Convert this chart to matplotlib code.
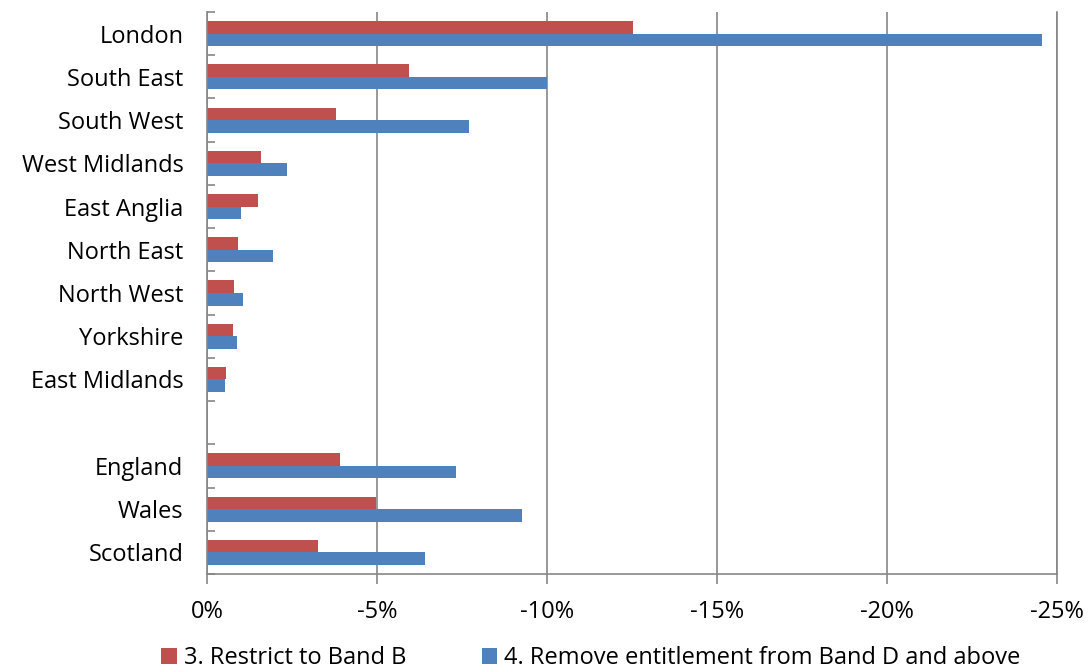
import matplotlib
matplotlib.use("Agg")
import matplotlib.pyplot as plt
import numpy as np

categories = ["London", "South East", "South West", "West Midlands", "East Anglia",
              "North East", "North West", "Yorkshire", "East Midlands", "",
              "England", "Wales", "Scotland"]
restrict_band_b = [-12.52, -5.95, -3.8, -1.6, -1.5, -0.9, -0.8, -0.76, -0.56, np.nan,
                   -3.9, -4.96, -3.26]
remove_band_d = [-24.56, -10.0, -7.7, -2.35, -1.0, -1.93, -1.07, -0.88, -0.52, np.nan,
                 -7.32, -9.27, -6.4]
series_names = ["3. Restrict to Band B", "4. Remove entitlement from Band D and above"]
xticks = [0, -5, -10, -15, -20, -25]
xtick_labels = ["0%", "-5%", "-10%", "-15%", "-20%", "-25%"]

plt.rcParams['font.family'] = ['Open Sans', 'DejaVu Sans']

fig = plt.figure(figsize=(10.92, 6.72), dpi=100)
ax = fig.add_axes([207/1092, 1-574/672, (1057-207)/1092, (574-12)/672])

n = len(categories)
y = np.arange(n)
h = 0.29
red = "#C0504D"
blue = "#4F81BD"
ax.barh(y - h/2, restrict_band_b, height=h, color=red, label=series_names[0])
ax.barh(y + h/2, remove_band_d, height=h, color=blue, label=series_names[1])

ax.set_ylim(n - 0.5, -0.5)
ax.set_xlim(0, -25)
ax.set_xticks(xticks)
ax.set_xticklabels(xtick_labels, fontsize=17)
ax.set_yticks(y)
ax.set_yticklabels(categories, fontsize=17)
ax.set_yticks(np.arange(-0.5, n, 1), minor=True)
ax.tick_params(axis='y', which='major', length=0, pad=17)
ax.tick_params(axis='y', which='minor', length=6, direction='in', color="#868686", width=1.2)
ax.tick_params(axis='x', which='major', length=7, direction='out', color="#868686", width=1.2, pad=12)

ax.grid(axis='x', color="#868686", linewidth=1.2)
ax.set_axisbelow(True)
ax.spines["top"].set_visible(False)
for s in ["left", "bottom", "right"]:
    ax.spines[s].set_color("#868686")
    ax.spines[s].set_linewidth(1.2)

fig.legend(loc="center", bbox_to_anchor=(0.541, 1 - 658/672), ncol=2, frameon=False,
           fontsize=17, handlelength=0.65, handleheight=0.65, handletextpad=0.3,
           columnspacing=3.2, borderpad=0)

fig.savefig("out.png", dpi=100)
